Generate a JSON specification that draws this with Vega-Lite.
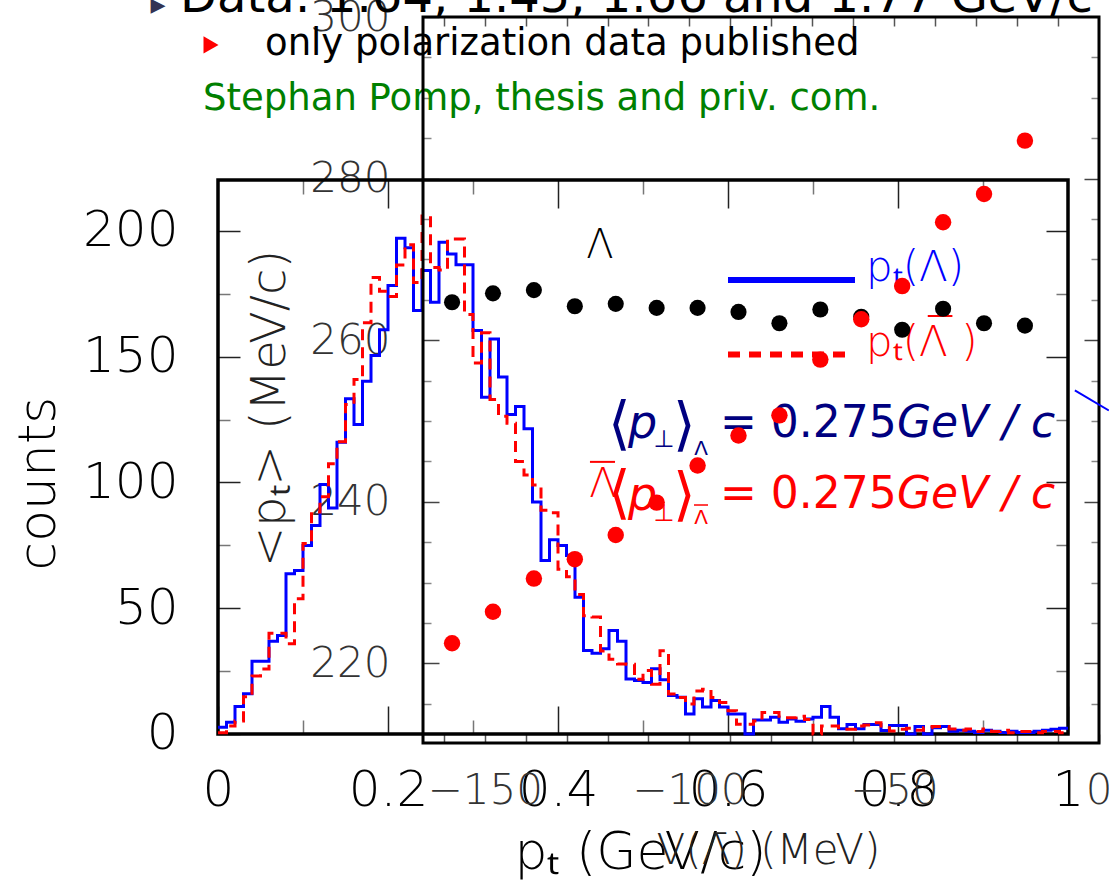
{
  "$schema": "https://vega.github.io/schema/vega-lite/v6.json",
  "width": 881,
  "height": 726,
  "autosize": {"type": "none"},
  "padding": {"left": 218, "top": 17, "right": 10, "bottom": 142},
  "background": "#ffffff",
  "config": {
    "view": {"stroke": null},
    "axis": {"grid": false, "domain": false, "labelFont": "DejaVu Sans", "titleFont": "DejaVu Sans", "labelLimit": 0, "titleLimit": 0},
    "text": {"font": "DejaVu Sans"}
  },
  "datasets": {
    "hist": [
      {"pt": 0, "lam": 2.7, "alam": 0.5}, {"pt": 0.01, "lam": 4.7, "alam": 3.2}, {"pt": 0.02, "lam": 10.9, "alam": 5.2},
      {"pt": 0.03, "lam": 16.0, "alam": 14.8}, {"pt": 0.04, "lam": 28.9, "alam": 23.1}, {"pt": 0.05, "lam": 28.9, "alam": 25.8},
      {"pt": 0.06, "lam": 36.9, "alam": 40.1}, {"pt": 0.07, "lam": 39.2, "alam": 40.1}, {"pt": 0.08, "lam": 63.7, "alam": 35.9},
      {"pt": 0.09, "lam": 65.0, "alam": 53.8}, {"pt": 0.10, "lam": 74.9, "alam": 75.7}, {"pt": 0.11, "lam": 82.9, "alam": 88.3},
      {"pt": 0.12, "lam": 99.2, "alam": 94.3}, {"pt": 0.13, "lam": 89.9, "alam": 107.5}, {"pt": 0.14, "lam": 116.0, "alam": 116.2},
      {"pt": 0.15, "lam": 133.3, "alam": 131.0}, {"pt": 0.16, "lam": 123.1, "alam": 141.0}, {"pt": 0.17, "lam": 140.3, "alam": 163.5},
      {"pt": 0.18, "lam": 150.5, "alam": 181.5}, {"pt": 0.19, "lam": 160.7, "alam": 176.0}, {"pt": 0.20, "lam": 178.3, "alam": 174.0},
      {"pt": 0.21, "lam": 197.1, "alam": 186.5}, {"pt": 0.22, "lam": 193.3, "alam": 194.5}, {"pt": 0.23, "lam": 168.4, "alam": 179.5},
      {"pt": 0.24, "lam": 184.3, "alam": 206.0}, {"pt": 0.25, "lam": 171.7, "alam": 185.5}, {"pt": 0.26, "lam": 195.5, "alam": 184.5},
      {"pt": 0.27, "lam": 190.9, "alam": 196.8}, {"pt": 0.28, "lam": 186.6, "alam": 196.8}, {"pt": 0.29, "lam": 186.6, "alam": 166.8},
      {"pt": 0.30, "lam": 160.4, "alam": 147.5}, {"pt": 0.31, "lam": 133.9, "alam": 159.5}, {"pt": 0.32, "lam": 157.1, "alam": 133.0},
      {"pt": 0.33, "lam": 141.9, "alam": 126.3}, {"pt": 0.34, "lam": 127.0, "alam": 123.6}, {"pt": 0.35, "lam": 130.2, "alam": 108.3},
      {"pt": 0.36, "lam": 121.4, "alam": 103.0}, {"pt": 0.37, "lam": 92.2, "alam": 99.0}, {"pt": 0.38, "lam": 69.0, "alam": 89.0},
      {"pt": 0.39, "lam": 77.2, "alam": 88.0}, {"pt": 0.40, "lam": 74.9, "alam": 65.5}, {"pt": 0.41, "lam": 71.0, "alam": 62.5},
      {"pt": 0.42, "lam": 54.4, "alam": 55.5}, {"pt": 0.43, "lam": 33.2, "alam": 47.0}, {"pt": 0.44, "lam": 32.1, "alam": 46.5},
      {"pt": 0.45, "lam": 33.9, "alam": 33.0}, {"pt": 0.46, "lam": 41.2, "alam": 29.7}, {"pt": 0.47, "lam": 36.9, "alam": 27.8},
      {"pt": 0.48, "lam": 21.9, "alam": 27.7}, {"pt": 0.49, "lam": 21.3, "alam": 21.8}, {"pt": 0.50, "lam": 20.5, "alam": 25.2},
      {"pt": 0.51, "lam": 25.9, "alam": 19.8}, {"pt": 0.52, "lam": 21.6, "alam": 33.1}, {"pt": 0.53, "lam": 15.3, "alam": 15.9},
      {"pt": 0.54, "lam": 14.6, "alam": 14.5}, {"pt": 0.55, "lam": 8.0, "alam": 11.9}, {"pt": 0.56, "lam": 14.0, "alam": 17.1},
      {"pt": 0.57, "lam": 10.7, "alam": 17.8}, {"pt": 0.58, "lam": 13.3, "alam": 14.5}, {"pt": 0.59, "lam": 10.7, "alam": 12.5},
      {"pt": 0.60, "lam": 8.0, "alam": 9.2}, {"pt": 0.61, "lam": 8.0, "alam": 3.9}, {"pt": 0.62, "lam": 0, "alam": 3.9},
      {"pt": 0.63, "lam": 5.6, "alam": 5.2}, {"pt": 0.64, "lam": 5.6, "alam": 8.5}, {"pt": 0.65, "lam": 6.7, "alam": 8.5},
      {"pt": 0.66, "lam": 4.7, "alam": 7.1}, {"pt": 0.67, "lam": 6.0, "alam": 6.5}, {"pt": 0.68, "lam": 5.1, "alam": 7.1},
      {"pt": 0.69, "lam": 6.0, "alam": 5.8}, {"pt": 0.70, "lam": 6.7, "alam": 0}, {"pt": 0.71, "lam": 10.9, "alam": 3.2},
      {"pt": 0.72, "lam": 6.7, "alam": 3.2}, {"pt": 0.73, "lam": 2.1, "alam": 1.9}, {"pt": 0.74, "lam": 3.8, "alam": 1.9},
      {"pt": 0.75, "lam": 2.1, "alam": 3.2}, {"pt": 0.76, "lam": 3.8, "alam": 3.6}, {"pt": 0.77, "lam": 3.8, "alam": 4.5},
      {"pt": 0.78, "lam": 1.4, "alam": 2.5}, {"pt": 0.79, "lam": 3.4, "alam": 1.2}, {"pt": 0.80, "lam": 3.4, "alam": 1.9},
      {"pt": 0.81, "lam": 0, "alam": 2.3}, {"pt": 0.82, "lam": 3.0, "alam": 1.5}, {"pt": 0.83, "lam": 0, "alam": 2.5},
      {"pt": 0.84, "lam": 2.5, "alam": 3.0}, {"pt": 0.85, "lam": 3.0, "alam": 3.0}, {"pt": 0.86, "lam": 1.1, "alam": 2.0},
      {"pt": 0.87, "lam": 1.5, "alam": 1.5}, {"pt": 0.88, "lam": 1.1, "alam": 2.0}, {"pt": 0.89, "lam": 0.6, "alam": 1.0},
      {"pt": 0.90, "lam": 1.5, "alam": 2.0}, {"pt": 0.91, "lam": 1.1, "alam": 1.0}, {"pt": 0.92, "lam": 0.6, "alam": 1.5},
      {"pt": 0.93, "lam": 1.1, "alam": 0.5}, {"pt": 0.94, "lam": 0.6, "alam": 1.0}, {"pt": 0.95, "lam": 0.6, "alam": 1.0},
      {"pt": 0.96, "lam": 1.1, "alam": 0.5}, {"pt": 0.97, "lam": 1.5, "alam": 1.0}, {"pt": 0.98, "lam": 1.9, "alam": 1.0},
      {"pt": 0.99, "lam": 2.3, "alam": 0.5}, {"pt": 1.00, "lam": 2.3, "alam": 0.5}
    ],
    "pts": [
      {"V": -158, "lam": 264.7, "alam": 222.5}, {"V": -148, "lam": 265.8, "alam": 226.4},
      {"V": -138, "lam": 266.2, "alam": 230.5}, {"V": -128, "lam": 264.2, "alam": 232.9},
      {"V": -118, "lam": 264.5, "alam": 235.9}, {"V": -108, "lam": 264.0, "alam": 239.9},
      {"V": -98, "lam": 264.0, "alam": 244.5}, {"V": -88, "lam": 263.5, "alam": 248.2},
      {"V": -78, "lam": 262.1, "alam": 250.7}, {"V": -68, "lam": 263.8, "alam": 257.6},
      {"V": -58, "lam": 262.9, "alam": 262.6}, {"V": -48, "lam": 261.3, "alam": 266.7},
      {"V": -38, "lam": 263.9, "alam": 274.6}, {"V": -28, "lam": 262.1, "alam": 278.1},
      {"V": -18, "lam": 261.8, "alam": 284.7}
    ],
    "seg": [
      {"V": -5.8, "p": 253.8}, {"V": 2.5, "p": 251.3}
    ]
  },
  "layer": [
    {
      "layer": [
        {
          "data": {"values": [{}]},
          "mark": {"type": "rect", "fill": "transparent", "stroke": "#000000", "strokeWidth": 3.5},
          "encoding": {
            "x": {"datum": 0, "type": "quantitative", "scale": {"domain": [0, 1.03647], "nice": false, "zero": false},
              "axis": {"orient": "bottom", "offset": -9, "values": [0, 0.2, 0.4, 0.6, 0.8, 1], "format": "~r", "domain": false, "grid": false,
                "tickSize": -28, "tickColor": "#222222", "tickWidth": 1.5, "labelFontSize": 50, "labelFontWeight": 200, "labelColor": "#000000",
                "labelPadding": 84.5, "labelBaseline": "middle", "labelAlign": "center", "labelFlush": false, "labelOverlap": false, "labelBound": false,
                "title": "pₜ (GeV/c)", "titleFontSize": 52, "titleFontWeight": 200, "titleColor": "#000000", "titleX": 422, "titleY": 118,
                "titleAlign": "center", "titleBaseline": "middle", "titleAngle": 0}},
            "x2": {"datum": 1},
            "y": {"datum": 0, "type": "quantitative", "scale": {"domain": [-3.58, 285.09], "nice": false, "zero": false},
              "axis": {"orient": "left", "offset": 0, "values": [0, 50, 100, 150, 200], "format": "~r", "domain": false, "grid": false,
                "tickSize": -22, "tickColor": "#222222", "tickWidth": 1.5, "labelFontSize": 50, "labelFontWeight": 200, "labelColor": "#000000",
                "labelPadding": 62, "labelAlign": "right", "labelBaseline": "middle", "labelFlush": false, "labelOverlap": false, "labelBound": false,
                "title": "counts", "titleFontSize": 52, "titleFontWeight": 200, "titleColor": "#000000", "titleX": -180, "titleY": 466,
                "titleAngle": 270, "titleAlign": "center", "titleBaseline": "middle"}},
            "y2": {"datum": 220.3}
          }
        },
        {
          "data": {"name": "hist"},
          "mark": {"type": "line", "interpolate": "step-after", "color": "#0000ff", "strokeWidth": 3},
          "encoding": {
            "x": {"field": "pt", "type": "quantitative", "scale": {"domain": [0, 1.03647], "nice": false, "zero": false},
              "axis": {"orient": "bottom", "offset": -9, "values": [0.1, 0.3, 0.5, 0.7, 0.9], "domain": false, "grid": false,
                "tickSize": -14, "tickColor": "#777777", "tickWidth": 1.5, "labels": false, "title": null}},
            "y": {"field": "lam", "type": "quantitative", "scale": {"domain": [-3.58, 285.09], "nice": false, "zero": false},
              "axis": {"orient": "left", "offset": 0, "values": [25, 75, 125, 175], "domain": false, "grid": false,
                "tickSize": -12, "tickColor": "#777777", "tickWidth": 1.5, "labels": false, "title": null}}
          }
        },
        {
          "data": {"name": "hist"},
          "mark": {"type": "line", "interpolate": "step-after", "color": "#ff0000", "strokeWidth": 3, "strokeDash": [11, 7]},
          "encoding": {
            "x": {"field": "pt", "type": "quantitative", "scale": {"domain": [0, 1.03647], "nice": false, "zero": false},
              "axis": {"orient": "top", "offset": -163, "values": [0.2, 0.4, 0.6, 0.8], "domain": false, "grid": false,
                "tickSize": -28, "tickColor": "#222222", "tickWidth": 1.5, "labels": false, "title": null}},
            "y": {"field": "alam", "type": "quantitative", "scale": {"domain": [-3.58, 285.09], "nice": false, "zero": false},
              "axis": {"orient": "right", "offset": -31, "values": [50, 100, 150, 200], "domain": false, "grid": false,
                "tickSize": -22, "tickColor": "#222222", "tickWidth": 1.5, "labels": false, "title": null}}
          }
        },
        {
          "data": {"values": [{}]},
          "mark": {"type": "rule", "color": "#0000ff", "strokeWidth": 6},
          "encoding": {
            "x": {"datum": 0.6, "type": "quantitative", "scale": {"domain": [0, 1.03647], "nice": false, "zero": false},
              "axis": {"orient": "top", "offset": -163, "values": [0.1, 0.3, 0.5, 0.7, 0.9], "domain": false, "grid": false,
                "tickSize": -14, "tickColor": "#777777", "tickWidth": 1.5, "labels": false, "title": null}},
            "x2": {"datum": 0.7494},
            "y": {"datum": 180.5, "type": "quantitative", "scale": {"domain": [-3.58, 285.09], "nice": false, "zero": false},
              "axis": {"orient": "right", "offset": -31, "values": [25, 75, 125, 175], "domain": false, "grid": false,
                "tickSize": -12, "tickColor": "#777777", "tickWidth": 1.5, "labels": false, "title": null}}
          }
        },
        {
          "data": {"values": [{}]},
          "mark": {"type": "rule", "color": "#ff0000", "strokeWidth": 6, "strokeDash": [12, 9]},
          "encoding": {
            "x": {"datum": 0.6, "type": "quantitative", "scale": {"domain": [0, 1.03647], "nice": false, "zero": false}, "axis": null},
            "x2": {"datum": 0.7459},
            "y": {"datum": 150.9, "type": "quantitative", "scale": {"domain": [-3.58, 285.09], "nice": false, "zero": false}, "axis": null}
          }
        },
        {
          "data": {"values": [{}]},
          "mark": {"type": "rule", "color": "#ff0000", "strokeWidth": 2},
          "encoding": {
            "x": {"datum": 0.835, "type": "quantitative", "scale": {"domain": [0, 1.03647], "nice": false, "zero": false}, "axis": null},
            "x2": {"datum": 0.864},
            "y": {"datum": 166.2, "type": "quantitative", "scale": {"domain": [-3.58, 285.09], "nice": false, "zero": false}, "axis": null}
          }
        },
        {
          "data": {"values": [{}]},
          "mark": {"type": "rule", "color": "#ff0000", "strokeWidth": 2},
          "encoding": {
            "x": {"datum": 0.4376, "type": "quantitative", "scale": {"domain": [0, 1.03647], "nice": false, "zero": false}, "axis": null},
            "x2": {"datum": 0.4671},
            "y": {"datum": 108.2, "type": "quantitative", "scale": {"domain": [-3.58, 285.09], "nice": false, "zero": false}, "axis": null}
          }
        },
        {
          "data": {"values": [{}]},
          "mark": {"type": "rule", "color": "#ff0000", "strokeWidth": 1.5},
          "encoding": {
            "x": {"datum": 0.56, "type": "quantitative", "scale": {"domain": [0, 1.03647], "nice": false, "zero": false}, "axis": null},
            "x2": {"datum": 0.5765},
            "y": {"datum": 91.05, "type": "quantitative", "scale": {"domain": [-3.58, 285.09], "nice": false, "zero": false}, "axis": null}
          }
        },
        {
          "data": {"values": [{}]},
          "mark": {"type": "text", "text": "▸", "fontSize": 30, "align": "center", "baseline": "middle", "color": "#333355"},
          "encoding": {
            "x": {"datum": -0.0706, "type": "quantitative", "scale": {"domain": [0, 1.03647], "nice": false, "zero": false}, "axis": null},
            "y": {"datum": 289.9, "type": "quantitative", "scale": {"domain": [-3.58, 285.09], "nice": false, "zero": false}, "axis": null}
          }
        },
        {
          "data": {"values": [{}]},
          "mark": {"type": "text", "text": "Data: 1.64, 1.45, 1.66 and 1.77 GeV/c", "fontSize": 48, "align": "left", "baseline": "alphabetic", "color": "#000000"},
          "encoding": {
            "x": {"datum": -0.0447, "type": "quantitative", "scale": {"domain": [0, 1.03647], "nice": false, "zero": false}, "axis": null},
            "y": {"datum": 287.1, "type": "quantitative", "scale": {"domain": [-3.58, 285.09], "nice": false, "zero": false}, "axis": null}
          }
        },
        {
          "data": {"values": [{}]},
          "mark": {"type": "point", "shape": "triangle-right", "filled": true, "color": "#ff0000", "size": 300, "opacity": 1},
          "encoding": {
            "x": {"datum": -0.0082, "type": "quantitative", "scale": {"domain": [0, 1.03647], "nice": false, "zero": false}, "axis": null},
            "y": {"datum": 274.0, "type": "quantitative", "scale": {"domain": [-3.58, 285.09], "nice": false, "zero": false}, "axis": null}
          }
        },
        {
          "data": {"values": [{}]},
          "mark": {"type": "text", "text": "only polarization data published", "fontSize": 37, "align": "left", "baseline": "alphabetic", "color": "#000000"},
          "encoding": {
            "x": {"datum": 0.0553, "type": "quantitative", "scale": {"domain": [0, 1.03647], "nice": false, "zero": false}, "axis": null},
            "y": {"datum": 270.0, "type": "quantitative", "scale": {"domain": [-3.58, 285.09], "nice": false, "zero": false}, "axis": null}
          }
        },
        {
          "data": {"values": [{}]},
          "mark": {"type": "text", "text": "Stephan Pomp, thesis and priv. com.", "fontSize": 37, "align": "left", "baseline": "alphabetic", "color": "#008000"},
          "encoding": {
            "x": {"datum": -0.0176, "type": "quantitative", "scale": {"domain": [0, 1.03647], "nice": false, "zero": false}, "axis": null},
            "y": {"datum": 248.1, "type": "quantitative", "scale": {"domain": [-3.58, 285.09], "nice": false, "zero": false}, "axis": null}
          }
        },
        {
          "data": {"values": [{}]},
          "mark": {"type": "text", "text": "Λ", "fontSize": 40, "fontWeight": 200, "align": "center", "baseline": "middle", "color": "#000000"},
          "encoding": {
            "x": {"datum": 0.4494, "type": "quantitative", "scale": {"domain": [0, 1.03647], "nice": false, "zero": false}, "axis": null},
            "y": {"datum": 194.0, "type": "quantitative", "scale": {"domain": [-3.58, 285.09], "nice": false, "zero": false}, "axis": null}
          }
        },
        {
          "data": {"values": [{}]},
          "mark": {"type": "text", "text": "pₜ(Λ)", "fontSize": 42, "fontWeight": 200, "align": "left", "baseline": "middle", "color": "#0000ff"},
          "encoding": {
            "x": {"datum": 0.7624, "type": "quantitative", "scale": {"domain": [0, 1.03647], "nice": false, "zero": false}, "axis": null},
            "y": {"datum": 185.3, "type": "quantitative", "scale": {"domain": [-3.58, 285.09], "nice": false, "zero": false}, "axis": null}
          }
        },
        {
          "data": {"values": [{}]},
          "mark": {"type": "text", "text": "pₜ(Λ )", "fontSize": 42, "fontWeight": 200, "align": "left", "baseline": "middle", "color": "#ff0000"},
          "encoding": {
            "x": {"datum": 0.7624, "type": "quantitative", "scale": {"domain": [0, 1.03647], "nice": false, "zero": false}, "axis": null},
            "y": {"datum": 155.5, "type": "quantitative", "scale": {"domain": [-3.58, 285.09], "nice": false, "zero": false}, "axis": null}
          }
        },
        {
          "data": {"values": [{}]},
          "mark": {"type": "text", "text": "⟨", "fontSize": 58, "fontWeight": 200, "align": "center", "baseline": "middle", "color": "#000080"},
          "encoding": {
            "x": {"datum": 0.4729, "type": "quantitative", "scale": {"domain": [0, 1.03647], "nice": false, "zero": false}, "axis": null},
            "y": {"datum": 122.5, "type": "quantitative", "scale": {"domain": [-3.58, 285.09], "nice": false, "zero": false}, "axis": null}
          }
        },
        {
          "data": {"values": [{}]},
          "mark": {"type": "text", "text": "p", "fontSize": 46, "fontStyle": "italic", "align": "left", "baseline": "alphabetic", "color": "#000080"},
          "encoding": {
            "x": {"datum": 0.4824, "type": "quantitative", "scale": {"domain": [0, 1.03647], "nice": false, "zero": false}, "axis": null},
            "y": {"datum": 117.7, "type": "quantitative", "scale": {"domain": [-3.58, 285.09], "nice": false, "zero": false}, "axis": null}
          }
        },
        {
          "data": {"values": [{}]},
          "mark": {"type": "text", "text": "⊥", "fontSize": 24, "align": "center", "baseline": "middle", "color": "#000080"},
          "encoding": {
            "x": {"datum": 0.5247, "type": "quantitative", "scale": {"domain": [0, 1.03647], "nice": false, "zero": false}, "axis": null},
            "y": {"datum": 116.9, "type": "quantitative", "scale": {"domain": [-3.58, 285.09], "nice": false, "zero": false}, "axis": null}
          }
        },
        {
          "data": {"values": [{}]},
          "mark": {"type": "text", "text": "⟩", "fontSize": 58, "fontWeight": 200, "align": "center", "baseline": "middle", "color": "#000080"},
          "encoding": {
            "x": {"datum": 0.5494, "type": "quantitative", "scale": {"domain": [0, 1.03647], "nice": false, "zero": false}, "axis": null},
            "y": {"datum": 122.1, "type": "quantitative", "scale": {"domain": [-3.58, 285.09], "nice": false, "zero": false}, "axis": null}
          }
        },
        {
          "data": {"values": [{}]},
          "mark": {"type": "text", "text": "Λ", "fontSize": 20, "align": "center", "baseline": "middle", "color": "#000080"},
          "encoding": {
            "x": {"datum": 0.5682, "type": "quantitative", "scale": {"domain": [0, 1.03647], "nice": false, "zero": false}, "axis": null},
            "y": {"datum": 113.3, "type": "quantitative", "scale": {"domain": [-3.58, 285.09], "nice": false, "zero": false}, "axis": null}
          }
        },
        {
          "data": {"values": [{}]},
          "mark": {"type": "text", "text": "= 0.275", "fontSize": 44, "align": "left", "baseline": "alphabetic", "color": "#000080"},
          "encoding": {
            "x": {"datum": 0.5906, "type": "quantitative", "scale": {"domain": [0, 1.03647], "nice": false, "zero": false}, "axis": null},
            "y": {"datum": 118.1, "type": "quantitative", "scale": {"domain": [-3.58, 285.09], "nice": false, "zero": false}, "axis": null}
          }
        },
        {
          "data": {"values": [{}]},
          "mark": {"type": "text", "text": "GeV / c", "fontSize": 44, "fontStyle": "italic", "align": "left", "baseline": "alphabetic", "color": "#000080"},
          "encoding": {
            "x": {"datum": 0.7988, "type": "quantitative", "scale": {"domain": [0, 1.03647], "nice": false, "zero": false}, "axis": null},
            "y": {"datum": 118.1, "type": "quantitative", "scale": {"domain": [-3.58, 285.09], "nice": false, "zero": false}, "axis": null}
          }
        },
        {
          "data": {"values": [{}]},
          "mark": {"type": "text", "text": "Λ", "fontSize": 40, "fontWeight": 200, "align": "center", "baseline": "middle", "color": "#ff0000"},
          "encoding": {
            "x": {"datum": 0.4529, "type": "quantitative", "scale": {"domain": [0, 1.03647], "nice": false, "zero": false}, "axis": null},
            "y": {"datum": 99.0, "type": "quantitative", "scale": {"domain": [-3.58, 285.09], "nice": false, "zero": false}, "axis": null}
          }
        },
        {
          "data": {"values": [{}]},
          "mark": {"type": "text", "text": "⟨", "fontSize": 58, "fontWeight": 200, "align": "center", "baseline": "middle", "color": "#ff0000"},
          "encoding": {
            "x": {"datum": 0.4729, "type": "quantitative", "scale": {"domain": [0, 1.03647], "nice": false, "zero": false}, "axis": null},
            "y": {"datum": 95.0, "type": "quantitative", "scale": {"domain": [-3.58, 285.09], "nice": false, "zero": false}, "axis": null}
          }
        },
        {
          "data": {"values": [{}]},
          "mark": {"type": "text", "text": "p", "fontSize": 46, "fontStyle": "italic", "align": "left", "baseline": "alphabetic", "color": "#ff0000"},
          "encoding": {
            "x": {"datum": 0.4824, "type": "quantitative", "scale": {"domain": [0, 1.03647], "nice": false, "zero": false}, "axis": null},
            "y": {"datum": 89.1, "type": "quantitative", "scale": {"domain": [-3.58, 285.09], "nice": false, "zero": false}, "axis": null}
          }
        },
        {
          "data": {"values": [{}]},
          "mark": {"type": "text", "text": "⊥", "fontSize": 24, "align": "center", "baseline": "middle", "color": "#ff0000"},
          "encoding": {
            "x": {"datum": 0.5247, "type": "quantitative", "scale": {"domain": [0, 1.03647], "nice": false, "zero": false}, "axis": null},
            "y": {"datum": 87.5, "type": "quantitative", "scale": {"domain": [-3.58, 285.09], "nice": false, "zero": false}, "axis": null}
          }
        },
        {
          "data": {"values": [{}]},
          "mark": {"type": "text", "text": "⟩", "fontSize": 58, "fontWeight": 200, "align": "center", "baseline": "middle", "color": "#ff0000"},
          "encoding": {
            "x": {"datum": 0.5494, "type": "quantitative", "scale": {"domain": [0, 1.03647], "nice": false, "zero": false}, "axis": null},
            "y": {"datum": 94.2, "type": "quantitative", "scale": {"domain": [-3.58, 285.09], "nice": false, "zero": false}, "axis": null}
          }
        },
        {
          "data": {"values": [{}]},
          "mark": {"type": "text", "text": "Λ", "fontSize": 20, "align": "center", "baseline": "middle", "color": "#ff0000"},
          "encoding": {
            "x": {"datum": 0.5682, "type": "quantitative", "scale": {"domain": [0, 1.03647], "nice": false, "zero": false}, "axis": null},
            "y": {"datum": 85.9, "type": "quantitative", "scale": {"domain": [-3.58, 285.09], "nice": false, "zero": false}, "axis": null}
          }
        },
        {
          "data": {"values": [{}]},
          "mark": {"type": "text", "text": "= 0.275", "fontSize": 44, "align": "left", "baseline": "alphabetic", "color": "#ff0000"},
          "encoding": {
            "x": {"datum": 0.5906, "type": "quantitative", "scale": {"domain": [0, 1.03647], "nice": false, "zero": false}, "axis": null},
            "y": {"datum": 89.9, "type": "quantitative", "scale": {"domain": [-3.58, 285.09], "nice": false, "zero": false}, "axis": null}
          }
        },
        {
          "data": {"values": [{}]},
          "mark": {"type": "text", "text": "GeV / c", "fontSize": 44, "fontStyle": "italic", "align": "left", "baseline": "alphabetic", "color": "#ff0000"},
          "encoding": {
            "x": {"datum": 0.7988, "type": "quantitative", "scale": {"domain": [0, 1.03647], "nice": false, "zero": false}, "axis": null},
            "y": {"datum": 89.9, "type": "quantitative", "scale": {"domain": [-3.58, 285.09], "nice": false, "zero": false}, "axis": null}
          }
        }
      ],
      "resolve": {"axis": {"x": "independent", "y": "independent"}}
    },
    {
      "layer": [
        {
          "data": {"values": [{}]},
          "mark": {"type": "rect", "fill": "transparent", "stroke": "#000000", "strokeWidth": 3},
          "encoding": {
            "x": {"datum": -165.1, "type": "quantitative", "scale": {"domain": [-215.2, 0.1], "nice": false, "zero": false},
              "axis": {"orient": "bottom", "offset": 0, "values": [-160, -150, -140, -130, -120, -110, -100, -90, -80, -70, -60, -50, -40, -30, -20, -10, 0],
                "format": "~r", "labelExpr": "datum.value % 50 == 0 ? datum.label : ''", "domain": false, "grid": false,
                "tickSize": -9, "tickColor": "#555555", "tickWidth": 1.5, "labelFontSize": 42, "labelFontWeight": 200, "labelColor": "#333333",
                "labelPadding": 56, "labelBaseline": "middle", "labelAlign": "center", "labelFlush": false, "labelOverlap": false, "labelBound": false,
                "title": "V(Λ̄) (MeV)", "titleFontSize": 42, "titleFontWeight": 200, "titleColor": "#222222", "titleX": 550, "titleY": 107,
                "titleAlign": "center", "titleBaseline": "middle", "titleAngle": 0}},
            "x2": {"datum": 0.1},
            "y": {"datum": 210.15, "type": "quantitative", "scale": {"domain": [210.15, 300], "nice": false, "zero": false},
              "axis": {"orient": "left", "offset": -205, "values": [220, 240, 260, 280, 300], "format": "~r", "domain": false, "grid": false,
                "tickSize": -16, "tickColor": "#444444", "tickWidth": 1.5, "labelFontSize": 42, "labelFontWeight": 200, "labelColor": "#333333",
                "labelPadding": 49, "labelAlign": "right", "labelBaseline": "middle", "labelFlush": false, "labelOverlap": false, "labelBound": false,
                "title": "<pₜ>  (MeV/c)", "titleFontSize": 48, "titleFontWeight": 200, "titleColor": "#222222", "titleX": -153, "titleY": 391,
                "titleAngle": 270, "titleAlign": "center", "titleBaseline": "middle"}},
            "y2": {"datum": 300}
          }
        },
        {
          "data": {"name": "pts"},
          "mark": {"type": "point", "filled": true, "color": "#000000", "size": 260, "opacity": 1, "strokeWidth": 0},
          "encoding": {
            "x": {"field": "V", "type": "quantitative", "scale": {"domain": [-215.2, 0.1], "nice": false, "zero": false},
              "axis": {"orient": "top", "offset": 0, "values": [-160, -150, -140, -130, -120, -110, -100, -90, -80, -70, -60, -50, -40, -30, -20, -10],
                "domain": false, "grid": false, "tickSize": -9, "tickColor": "#555555", "tickWidth": 1.5, "labels": false, "title": null}},
            "y": {"field": "lam", "type": "quantitative", "scale": {"domain": [210.15, 300], "nice": false, "zero": false},
              "axis": {"orient": "left", "offset": -205, "values": [215, 225, 230, 235, 245, 250, 255, 265, 270, 275, 285, 290, 295],
                "domain": false, "grid": false, "tickSize": -8, "tickColor": "#888888", "tickWidth": 1.5, "labels": false, "title": null}}
          }
        },
        {
          "data": {"name": "pts"},
          "mark": {"type": "point", "filled": true, "color": "#ff0000", "size": 270, "opacity": 1, "strokeWidth": 0},
          "encoding": {
            "x": {"field": "V", "type": "quantitative", "scale": {"domain": [-215.2, 0.1], "nice": false, "zero": false}, "axis": null},
            "y": {"field": "alam", "type": "quantitative", "scale": {"domain": [210.15, 300], "nice": false, "zero": false},
              "axis": {"orient": "right", "offset": 0, "values": [220, 240, 260, 280],
                "domain": false, "grid": false, "tickSize": -15, "tickColor": "#444444", "tickWidth": 1.5, "labels": false, "title": null}}
          }
        },
        {
          "data": {"name": "seg"},
          "mark": {"type": "line", "color": "#0000ff", "strokeWidth": 2},
          "encoding": {
            "x": {"field": "V", "type": "quantitative", "scale": {"domain": [-215.2, 0.1], "nice": false, "zero": false}, "axis": null},
            "y": {"field": "p", "type": "quantitative", "scale": {"domain": [210.15, 300], "nice": false, "zero": false},
              "axis": {"orient": "right", "offset": 0, "values": [215, 225, 230, 235, 245, 250, 255, 265, 270, 275, 285, 290, 295],
                "domain": false, "grid": false, "tickSize": -8, "tickColor": "#888888", "tickWidth": 1.5, "labels": false, "title": null}}
          }
        }
      ],
      "resolve": {"axis": {"x": "independent", "y": "independent"}}
    }
  ],
  "resolve": {"scale": {"x": "independent", "y": "independent"}}
}
